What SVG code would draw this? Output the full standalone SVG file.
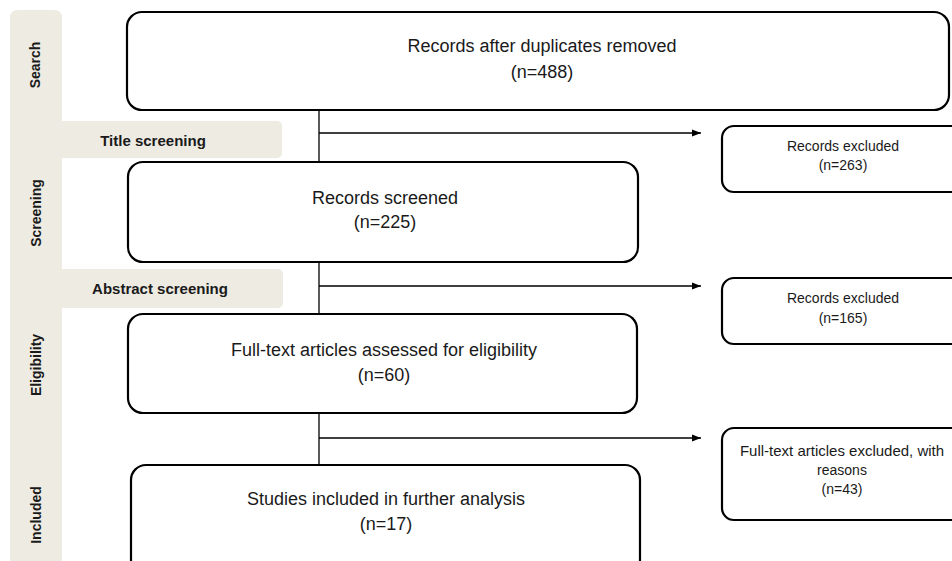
<svg xmlns="http://www.w3.org/2000/svg" width="952" height="561" viewBox="0 0 952 561">
<defs>
<style>
.band{fill:#edebe2}
.box{fill:#fff;stroke:#000;stroke-width:2.2}
.t{font-family:"Liberation Sans",Arial,sans-serif;fill:#1a1a1a;text-anchor:middle}
.big{font-size:18px}
.sm{font-size:14px}
.lab{font-family:"Liberation Sans",Arial,sans-serif;font-weight:bold;font-size:14px;fill:#1a1a1a;text-anchor:middle}
.ln{stroke:#000;stroke-width:1.3;fill:none}
</style>
<marker id="arr" viewBox="0 0 10 10" refX="10" refY="5" markerWidth="14" markerHeight="9" markerUnits="userSpaceOnUse" orient="auto">
<path d="M0,1 L10,5 L0,9 z" fill="#000"/>
</marker>
</defs>
<rect width="952" height="561" fill="#fff"/>
<g id="stages">
<path class="band" d="M10,18 Q10,10 18,10 L54,10 Q62,10 62,18 L62,561 L10,561 z"/>
<rect class="band" x="55" y="121" width="227" height="37" rx="5"/>
<rect class="band" x="55" y="269" width="228" height="39" rx="5"/>
<text class="lab" transform="translate(35,65) rotate(-90)" dy="5">Search</text>
<text class="lab" transform="translate(36,213) rotate(-90)" dy="5">Screening</text>
<text class="lab" transform="translate(36,365) rotate(-90)" dy="5">Eligibility</text>
<text class="lab" transform="translate(36,515) rotate(-90)" dy="5">Included</text>
<text class="lab" x="153" y="146" style="font-size:15px">Title screening</text>
<text class="lab" x="160" y="294" style="font-size:15px">Abstract screening</text>
</g>
<g id="connectors">
<line class="ln" x1="319" y1="110" x2="319" y2="465"/>
<line class="ln" x1="319" y1="133" x2="701" y2="133" marker-end="url(#arr)"/>
<line class="ln" x1="319" y1="286" x2="701" y2="286" marker-end="url(#arr)"/>
<line class="ln" x1="319" y1="438" x2="701" y2="438" marker-end="url(#arr)"/>
</g>
<g id="n1">
<rect class="box" x="127" y="12" width="822" height="98" rx="15"/>
<text class="t big" x="542" y="52">Records after duplicates removed</text>
<text class="t big" x="542" y="78">(n=488)</text>
</g>
<g id="n2">
<rect class="box" x="128" y="162" width="510" height="100" rx="15"/>
<text class="t big" x="385" y="204">Records screened</text>
<text class="t big" x="385" y="228">(n=225)</text>
</g>
<g id="n3">
<rect class="box" x="128" y="314" width="509" height="99" rx="15"/>
<text class="t big" x="384" y="356">Full-text articles assessed for eligibility</text>
<text class="t big" x="384" y="381">(n=60)</text>
</g>
<g id="n4">
<rect class="box" x="131" y="465" width="509" height="110" rx="15"/>
<text class="t big" x="386" y="505">Studies included in further analysis</text>
<text class="t big" x="386" y="530">(n=17)</text>
</g>
<g id="e1">
<rect class="box" x="722" y="126" width="245" height="66" rx="12"/>
<text class="t sm" x="843" y="151">Records excluded</text>
<text class="t sm" x="843" y="170">(n=263)</text>
</g>
<g id="e2">
<rect class="box" x="722" y="278" width="245" height="66" rx="12"/>
<text class="t sm" x="843" y="303">Records excluded</text>
<text class="t sm" x="843" y="323">(n=165)</text>
</g>
<g id="e3">
<rect class="box" x="722" y="428" width="245" height="92" rx="12"/>
<text class="t sm" x="842" y="456" style="font-size:15px">Full-text articles excluded, with</text>
<text class="t sm" x="842" y="475">reasons</text>
<text class="t sm" x="842" y="494">(n=43)</text>
</g>
</svg>
